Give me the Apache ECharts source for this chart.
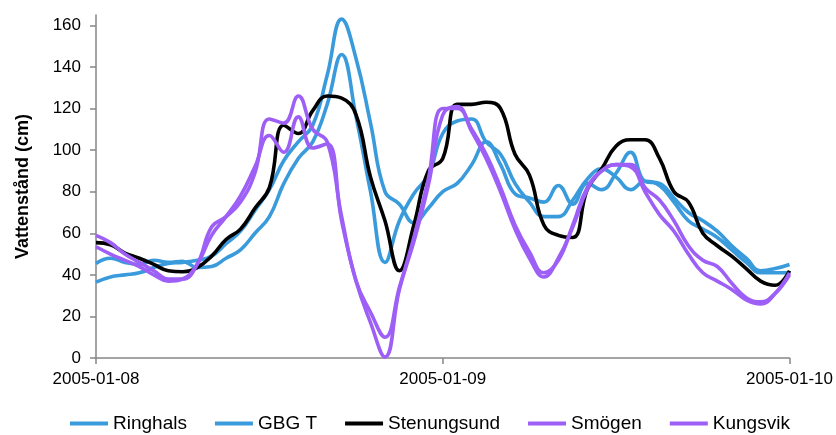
<!DOCTYPE html>
<html>
<head>
<meta charset="utf-8">
<script src="https://cdn.jsdelivr.net/npm/echarts@6/dist/echarts.min.js"></script>
<style>
  html, body { margin: 0; padding: 0; background: #ffffff; }
  #chart { width: 836px; height: 435px; }
</style>
</head>
<body>
<div id="chart"></div>
<script>
// Hours after 2005-01-08 00:00, one reading per hour
const hours = [0, 1, 2, 3, 4, 5, 6, 7, 8, 9, 10, 11, 12, 13, 14, 15, 16, 17, 18, 19, 20, 21, 22, 23, 24,
               25, 26, 27, 28, 29, 30, 31, 32, 33, 34, 35, 36, 37, 38, 39, 40, 41, 42, 43, 44, 45, 46, 47, 48];

// Water level (cm) per station
const ringhals = [45.5, 48, 46, 45, 47, 46, 46.5, 43.5, 44, 48, 52, 60, 68, 84, 96, 104, 122, 146, 116, 80, 46, 66, 79, 88, 108,
                  114, 115, 104, 98, 84, 75, 68, 68, 76, 86, 91, 87, 81, 85, 83, 75, 66, 62, 58, 52, 46, 41, 41, 41];
const gbgT = [36.5, 39, 40, 41, 43.5, 45.5, 46, 47, 49, 55, 61, 71, 81, 95, 104, 112, 136, 163, 144, 113, 80, 74, 65, 72, 80,
              84, 93, 104, 93, 79, 77, 75, 83, 74, 84, 81, 89, 99, 85, 84, 77, 70, 66, 61, 54, 48, 42, 43, 45];
const stenungsund = [55.5, 54.5, 50.5, 48, 45, 42, 41.5, 43.5, 49, 57, 62, 72, 82, 112, 108, 119, 126, 125, 117, 87, 66, 42, 64, 90, 96,
                     122, 122, 123, 120, 98, 88, 64, 59, 58, 81, 91, 102, 105, 105, 96, 80, 75, 60, 54, 49, 43, 37, 35, 42];
const smogen = [59, 55.5, 50, 46, 42, 38, 38, 45, 63, 68, 75, 89, 115, 113, 126, 110, 104, 68, 37, 22, 10, 34, 58, 86, 120,
                120, 110, 98, 82, 64, 51, 41, 47, 64, 82, 90, 93, 93, 82, 76, 66, 54, 47, 44, 36, 29, 27, 31, 40];
const kungsvik = [53.5, 50, 47, 44, 40, 37, 38, 45, 59, 68, 78, 92, 107, 99, 116, 101, 103, 66, 37, 17, 0.5, 33, 56, 83, 117,
                  121, 109, 96, 80, 62, 48, 39, 48, 63, 81, 90, 93, 92, 80, 69, 61, 50, 41, 37, 33, 28, 26, 31, 41];

const seriesNames = ['Ringhals', 'GBG T', 'Stenungsund', 'Smögen', 'Kungsvik'];
const seriesValues = [ringhals, gbgT, stenungsund, smogen, kungsvik];
const seriesColors = ['#3a9bdc', '#3a9bdc', '#000000', '#9d5ff6', '#9d5ff6'];

const xTickLabels = ['2005-01-08', '2005-01-09', '2005-01-10'];
const yTicks = [0, 20, 40, 60, 80, 100, 120, 140, 160];

const FONT = '"Liberation Sans", Arial, sans-serif';
const axisGrey = '#868686';

const chart = echarts.init(document.getElementById('chart'), null, { renderer: 'canvas' });

chart.setOption({
  animation: false,
  backgroundColor: '#ffffff',
  textStyle: { fontFamily: FONT },
  grid: { left: 96, right: 44, top: 15, bottom: 77, containLabel: false },
  legend: {
    data: seriesNames,
    left: 65,
    top: 409,
    icon: 'rect',
    itemWidth: 38,
    itemHeight: 4,
    itemGap: 28,
    textStyle: { fontFamily: FONT, fontSize: 19, color: '#000000' }
  },
  xAxis: {
    type: 'value',
    min: 0,
    max: 48,
    interval: 24,
    splitLine: { show: false },
    axisLine: { lineStyle: { color: axisGrey, width: 1.5 } },
    axisTick: { show: true, length: 6, lineStyle: { color: axisGrey, width: 1.5 } },
    axisLabel: {
      margin: 13,
      fontFamily: FONT,
      fontSize: 17,
      color: '#000000',
      formatter: v => xTickLabels[v / 24]
    }
  },
  yAxis: {
    type: 'value',
    min: 0,
    max: 165,
    interval: 20,
    name: 'Vattenstånd (cm)',
    nameLocation: 'middle',
    nameGap: 64,
    nameTextStyle: { fontFamily: FONT, fontSize: 18, fontWeight: 'bold', color: '#000000' },
    splitLine: { show: false },
    axisLine: { show: true, lineStyle: { color: axisGrey, width: 1.5 } },
    axisTick: { show: true, length: 6, customValues: yTicks, lineStyle: { color: axisGrey, width: 1.5 } },
    axisLabel: {
      margin: 15,
      fontFamily: FONT,
      fontSize: 17,
      color: '#000000',
      customValues: yTicks
    }
  },
  series: seriesNames.map((name, k) => ({
    name: name,
    type: 'line',
    smooth: 0.45,
    showSymbol: false,
    symbol: 'none',
    color: seriesColors[k],
    lineStyle: { width: 3.6, color: seriesColors[k] },
    data: hours.map((h, i) => [h, seriesValues[k][i]])
  }))
});
</script>
</body>
</html>
